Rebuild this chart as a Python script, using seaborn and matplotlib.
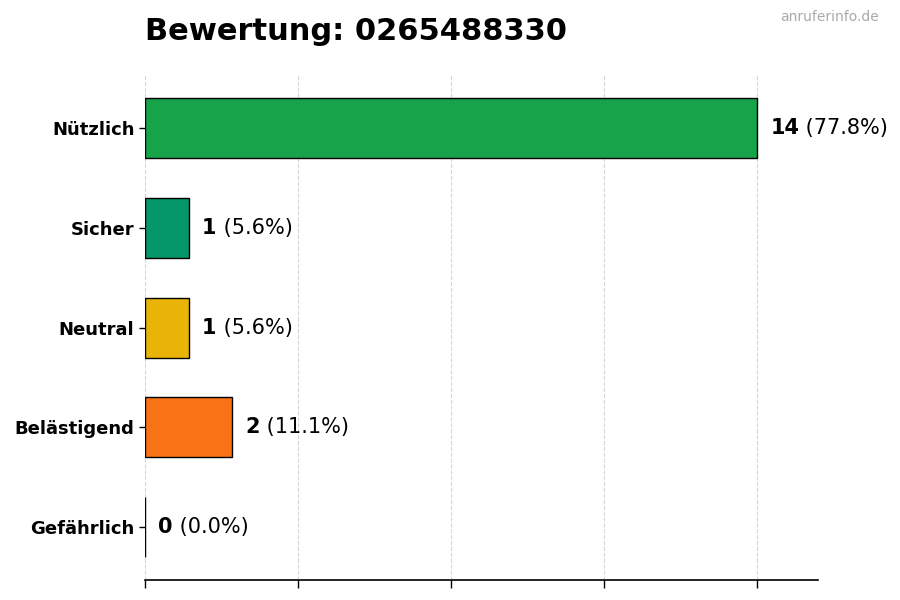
import numpy as np
import pandas as pd
import matplotlib
matplotlib.use("Agg")
import matplotlib.pyplot as plt
import seaborn as sns

# data
categories = ["Nützlich", "Sicher", "Neutral", "Belästigend", "Gefährlich"]
counts = [14, 1, 1, 2, 0]
colors = ["#16a34a", "#059669", "#eab308", "#f97316", "#dc2626"]
number = "0265488330"

total = sum(counts)
df = pd.DataFrame({"category": categories, "count": counts})

sns.set_style("white")
plt.rcParams["font.family"] = ["DejaVu Sans"]
plt.rcParams["text.color"] = "black"
plt.rcParams["xtick.color"] = "black"
plt.rcParams["ytick.color"] = "black"
plt.rcParams["axes.edgecolor"] = "black"

fig, ax = plt.subplots(figsize=(9, 6), dpi=100)
fig.subplots_adjust(left=0.161, right=0.909, top=0.875, bottom=0.033)

sns.barplot(data=df, x="count", y="category", hue="category", palette=colors,
            orient="h", width=0.6, edgecolor="black", linewidth=1,
            legend=False, ax=ax, saturation=1)

ax.set_xlim(0, max(counts) * 1.1)
ax.set_ylim(len(categories) - 1 + 0.53, -0.53)
ax.set_xticks(np.arange(0, max(counts) + 0.1, max(counts) / 4))
ax.set_xticklabels([])
ax.xaxis.grid(True, linestyle="--", color="#cccccc", alpha=0.8, linewidth=0.8)
ax.set_axisbelow(True)
ax.tick_params(axis="x", length=6, width=1, colors="black", bottom=True)
ax.tick_params(axis="y", length=4, width=1, left=True, colors="black")
ax.set_xlabel("")
ax.set_ylabel("")
for lbl in ax.get_yticklabels():
    lbl.set_fontweight("bold")
    lbl.set_fontsize(13)
    lbl.set_color("black")

sns.despine(ax=ax, left=True)
ax.spines["bottom"].set_linewidth(1.2)
ax.spines["bottom"].set_color("black")

off = max(counts) * 0.022
for i, c in enumerate(counts):
    t = ax.text(c + off, i, f"{c}", va="center", ha="left",
                fontsize=15, fontweight="bold", color="black")
    fig.canvas.draw()
    bb = t.get_window_extent().transformed(ax.transData.inverted())
    ax.text(bb.x1, i, f" ({c / total * 100:.1f}%)", va="center", ha="left",
            fontsize=15, color="black")

fig.text(0.161, 0.948, f"Bewertung: {number}", fontsize=22, fontweight="bold",
         ha="left", va="center", color="black")
fig.text(0.976, 0.971, "anruferinfo.de", fontsize=10, color="#aaaaaa",
         ha="right", va="center")

fig.savefig("out.png", dpi=100)
